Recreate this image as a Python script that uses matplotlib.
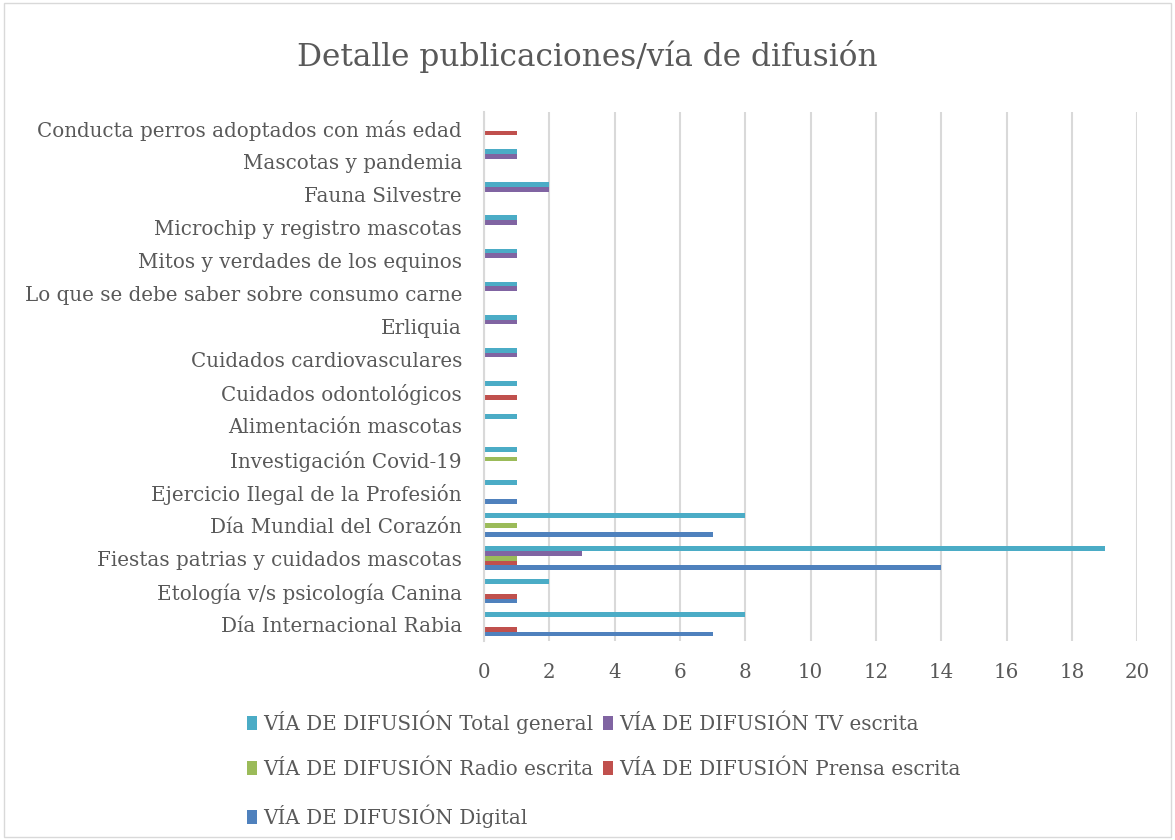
import numpy as np
import matplotlib.pyplot as plt
from matplotlib.patches import Rectangle

# categories listed bottom -> top
categorias = [
    'Día Internacional Rabia',
    'Etología v/s psicología Canina',
    'Fiestas patrias y cuidados mascotas',
    'Día Mundial del Corazón',
    'Ejercicio Ilegal de la Profesión',
    'Investigación Covid-19',
    'Alimentación mascotas',
    'Cuidados odontológicos',
    'Cuidados cardiovasculares',
    'Erliquia',
    'Lo que se debe saber sobre consumo carne',
    'Mitos y verdades de los equinos',
    'Microchip y registro mascotas',
    'Fauna Silvestre',
    'Mascotas y pandemia',
    'Conducta perros adoptados con más edad',
]

digital = [7, 1, 14, 7, 1, 0, 0, 0, 0, 0, 0, 0, 0, 0, 0, 0]
prensa  = [1, 1, 1, 0, 0, 0, 0, 1, 0, 0, 0, 0, 0, 0, 0, 1]
radio   = [0, 0, 1, 1, 0, 1, 0, 0, 0, 0, 0, 0, 0, 0, 0, 0]
tv      = [0, 0, 3, 0, 0, 0, 0, 0, 1, 1, 1, 1, 1, 2, 1, 0]
total   = [8, 2, 19, 8, 1, 1, 1, 1, 1, 1, 1, 1, 1, 2, 1, 0]

series = [
    ('VÍA DE DIFUSIÓN Digital', digital, '#4F81BD'),
    ('VÍA DE DIFUSIÓN Prensa escrita', prensa, '#C0504D'),
    ('VÍA DE DIFUSIÓN Radio escrita', radio, '#9BBB59'),
    ('VÍA DE DIFUSIÓN TV escrita', tv, '#8064A2'),
    ('VÍA DE DIFUSIÓN Total general', total, '#4BACC6'),
]

plt.rcParams['font.family'] = ['DejaVu Serif']
txt = '#595959'
fs = 14.3

fig = plt.figure(figsize=(11.75, 8.4), dpi=100)
ax = fig.add_axes([0.412, 0.237, 0.556, 0.63])

y = np.arange(len(categorias))
h = 0.145
bars = {}
for i, (name, vals, col) in enumerate(series):
    bars[name] = ax.barh(y + (i - 2) * h, vals, height=h, color=col, label=name)

ax.set_xlim(0, 20)
ax.set_ylim(-0.5, len(categorias) - 0.5)
ax.set_xticks(range(0, 21, 2))
ax.set_yticks(y)
ax.set_yticklabels(categorias)
ax.tick_params(axis='both', length=0, labelsize=fs, colors=txt)
ax.tick_params(axis='y', pad=16)
ax.tick_params(axis='x', pad=16)
ax.grid(axis='x', color='#d9d9d9', linewidth=1.5)
ax.set_axisbelow(True)
for s in ['top', 'right', 'bottom']:
    ax.spines[s].set_visible(False)
ax.spines['left'].set_color('#d9d9d9')
ax.spines['left'].set_linewidth(1.5)

fig.text(0.5, 0.933, 'Detalle publicaciones/vía de difusión', ha='center', va='center',
         fontsize=22.5, color=txt)

order = ['VÍA DE DIFUSIÓN Total general', 'VÍA DE DIFUSIÓN Radio escrita',
         'VÍA DE DIFUSIÓN Digital', 'VÍA DE DIFUSIÓN TV escrita',
         'VÍA DE DIFUSIÓN Prensa escrita']
fig.legend([bars[n] for n in order], order, ncol=2, loc='upper left',
           bbox_to_anchor=(0.195, 0.176), frameon=False, fontsize=fs,
           labelcolor=txt, handlelength=0.5, handleheight=0.7, handletextpad=0.3,
           columnspacing=0.5, labelspacing=1.3)

fig.patches.append(Rectangle((0.003, 0.003), 0.994, 0.994, transform=fig.transFigure,
                             fill=False, edgecolor='#d9d9d9', linewidth=1))

fig.savefig('out.png', dpi=100)
